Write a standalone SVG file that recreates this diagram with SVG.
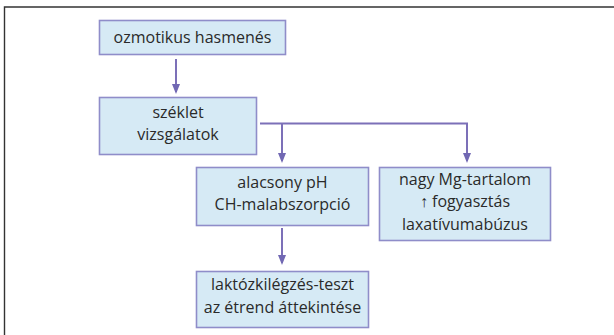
<svg xmlns="http://www.w3.org/2000/svg" width="614" height="335" viewBox="0 0 614 335">
  <style>
    .box { fill: #d6eaf5; stroke: #8f8dc9; stroke-width: 1.6; }
    .lbl { font-family: "Open Sans", "Noto Sans", "Liberation Sans", sans-serif; font-size: 16px; fill: #2a2a2a; text-anchor: middle; }
    .wire { fill: none; stroke: #7c70b8; stroke-width: 2; marker-end: url(#head); }
  </style>
  <defs>
    <!-- downward-pointing arrowhead; tip sits 2px past the line end -->
    <marker id="head" viewBox="0 0 10 8" refX="8" refY="4" markerWidth="10" markerHeight="8" markerUnits="userSpaceOnUse" orient="auto">
      <path d="M0,0 L10,4 L0,8 Z" fill="#7168b3"/>
    </marker>
  </defs>

  <rect x="0" y="0" width="614" height="335" fill="#ffffff"/>
  <!-- open frame: top and left rules -->
  <path d="M4.5,335 L4.5,7 L614,7" fill="none" stroke="#333333" stroke-width="1.4"/>

  <g id="connectors">
    <path class="wire" d="M176,59 L176,92"/>
    <path class="wire" d="M260,123.5 L467,123.5 L467,161"/>
    <path class="wire" d="M282,123.5 L282,161"/>
    <path class="wire" d="M282,228 L282,263"/>
  </g>

  <g id="n-hasmenes">
    <rect class="box" x="99.5" y="20.5" width="186" height="34"/>
    <text class="lbl" x="192.5" y="42.5">ozmotikus hasmenés</text>
  </g>

  <g id="n-szeklet">
    <rect class="box" x="99.5" y="97.5" width="157" height="57"/>
    <text class="lbl" x="178" y="118">széklet</text>
    <text class="lbl" x="178" y="140">vizsgálatok</text>
  </g>

  <g id="n-ph">
    <rect class="box" x="196.5" y="167.5" width="172" height="58"/>
    <text class="lbl" x="282.5" y="188">alacsony pH</text>
    <text class="lbl" x="282.5" y="209.5">CH-malabszorpció</text>
  </g>

  <g id="n-mg">
    <rect class="box" x="379.5" y="167.5" width="171" height="73"/>
    <text class="lbl" x="465" y="184.5">nagy Mg-tartalom</text>
    <text class="lbl" x="465" y="207">↑ fogyasztás</text>
    <text class="lbl" x="465" y="229.5">laxatívumabúzus</text>
  </g>

  <g id="n-teszt">
    <rect class="box" x="196.5" y="271.5" width="172" height="56"/>
    <text class="lbl" x="282.5" y="290">laktózkilégzés-teszt</text>
    <text class="lbl" x="282.5" y="312.5">az étrend áttekintése</text>
  </g>
</svg>
